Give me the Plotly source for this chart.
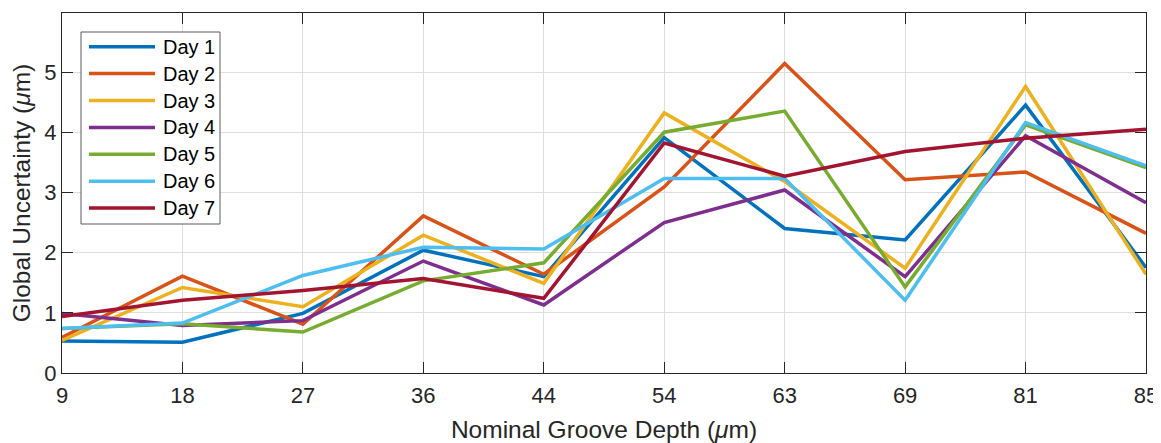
import plotly.graph_objects as go

depths = ["9", "18", "27", "36", "44", "54", "63", "69", "81", "85"]
series_names = ["Day 1", "Day 2", "Day 3", "Day 4", "Day 5", "Day 6", "Day 7"]

day1 = [0.53, 0.51, 0.99, 2.04, 1.60, 3.91, 2.40, 2.21, 4.45, 1.75]
day2 = [0.59, 1.61, 0.81, 2.61, 1.64, 3.09, 5.14, 3.21, 3.34, 2.32]
day3 = [0.54, 1.42, 1.10, 2.29, 1.49, 4.32, 3.18, 1.74, 4.76, 1.64]
day4 = [0.99, 0.79, 0.87, 1.86, 1.13, 2.50, 3.04, 1.60, 3.94, 2.83]
day5 = [0.74, 0.82, 0.68, 1.53, 1.83, 4.00, 4.35, 1.43, 4.12, 3.41]
day6 = [0.74, 0.83, 1.62, 2.09, 2.06, 3.23, 3.23, 1.21, 4.16, 3.44]
day7 = [0.94, 1.21, 1.37, 1.57, 1.24, 3.82, 3.27, 3.68, 3.90, 4.05]

series_values = [day1, day2, day3, day4, day5, day6, day7]
colors = ["#0072BD", "#D95319", "#EDB120", "#7E2F8E", "#77AC30", "#4DBEEE", "#A2142F"]

y_ticks = [0, 1, 2, 3, 4, 5]

# the page body adds an 8px offset, so the figure is sized to fit the window
OFF = 8
W, H = 1161 - OFF, 443 - OFF
ML, MR, MT, MB = 54, 15, 5, 70
PW, PH = W - ML - MR, H - MT - MB
LINE_W = 3.5

fig = go.Figure()
for name, vals, col in zip(series_names, series_values, colors):
    fig.add_trace(go.Scatter(
        x=depths, y=vals, mode="lines", name=name,
        line=dict(color=col, width=LINE_W), showlegend=False,
    ))

# legend box drawn in paper coordinates (MATLAB-style long sample lines)
def px_x(p):
    return (p - OFF - ML) / PW

def px_y(p):
    return (H - MB - (p - OFF)) / PH

leg_left, leg_right, leg_top, leg_bottom = 81, 220, 32, 224
row0, row_step = 46.7, 26.9
shapes = [dict(type="rect", xref="paper", yref="paper",
               x0=px_x(leg_left), x1=px_x(leg_right), y0=px_y(leg_bottom), y1=px_y(leg_top),
               line=dict(color="#5a5a5a", width=1), fillcolor="white", layer="above")]
annotations = []
for i, (name, col) in enumerate(zip(series_names, colors)):
    ry = row0 + i * row_step
    shapes.append(dict(type="line", xref="paper", yref="paper",
                       x0=px_x(89), x1=px_x(155), y0=px_y(ry), y1=px_y(ry),
                       line=dict(color=col, width=LINE_W), layer="above"))
    annotations.append(dict(xref="paper", yref="paper", x=px_x(161), y=px_y(ry),
                            xanchor="left", yanchor="middle", text=name, showarrow=False,
                            font=dict(size=20, color="#000000")))

axis_color = "#262626"
font_family = "Liberation Sans, Arial, Helvetica, sans-serif"

fig.update_layout(
    width=W, height=H,
    margin=dict(l=ML, r=MR, t=MT, b=MB),
    paper_bgcolor="white", plot_bgcolor="white",
    font=dict(family=font_family, color=axis_color, size=22),
    showlegend=False,
    shapes=shapes, annotations=annotations,
    xaxis=dict(
        type="category", categoryorder="array", categoryarray=depths,
        range=[0, len(depths) - 1], automargin=False,
        showgrid=True, gridcolor="#dedede", gridwidth=1,
        showline=True, linecolor=axis_color, linewidth=1, mirror="ticks",
        ticks="inside", ticklen=11, tickcolor=axis_color, tickwidth=1,
        tickfont=dict(size=22, color=axis_color), ticklabelstandoff=3,
        title=dict(text="Nominal Groove Depth (<i>μ</i>m)", font=dict(size=24.5, color=axis_color), standoff=16),
        zeroline=False,
    ),
    yaxis=dict(
        range=[0, 5.98], automargin=False,
        tickmode="array", tickvals=y_ticks, ticktext=[str(v) for v in y_ticks],
        showgrid=True, gridcolor="#dedede", gridwidth=1,
        showline=True, linecolor=axis_color, linewidth=1, mirror="ticks",
        ticks="inside", ticklen=11, tickcolor=axis_color, tickwidth=1,
        tickfont=dict(size=22, color=axis_color),
        title=dict(text="Global Uncertainty (<i>μ</i>m)", font=dict(size=24.5, color=axis_color), standoff=6),
        zeroline=False,
    ),
)

fig.write_html("out.html")
